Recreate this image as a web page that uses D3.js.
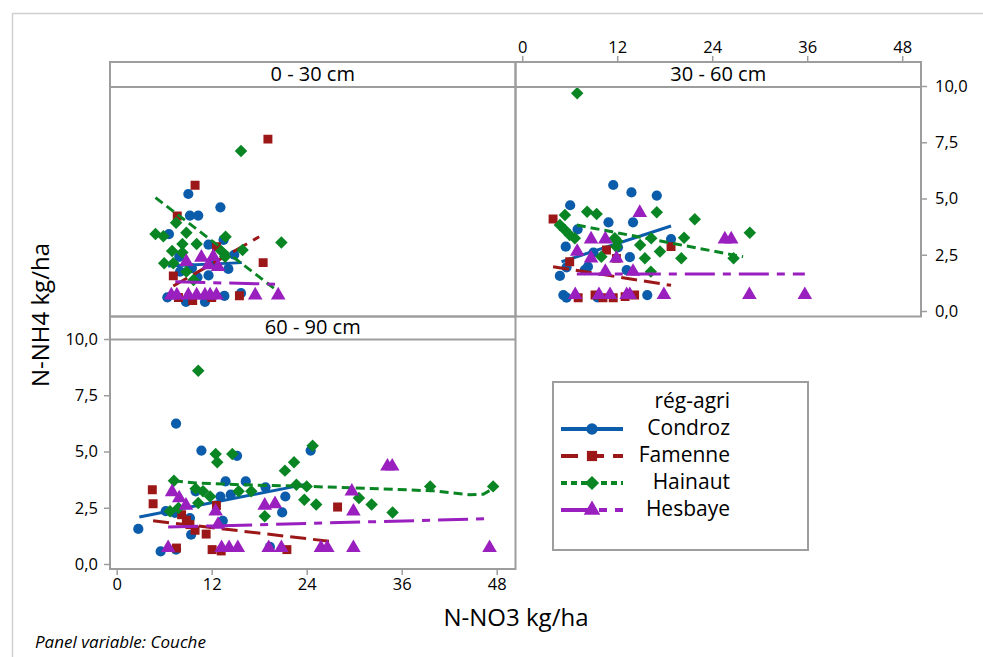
<!DOCTYPE html>
<html><head><meta charset="utf-8">
<script src="https://cdn.jsdelivr.net/npm/d3@7"></script>
<style>body{margin:0;background:#fff} svg text{font-family:"Open Sans",sans-serif;fill:#000}</style>
</head><body><svg id="c" width="983" height="657"></svg>
<script>
// ---------- DATA ----------
const regions = ["Condroz", "Famenne", "Hainaut", "Hesbaye"];
const panels = ["0 - 30 cm", "30 - 60 cm", "60 - 90 cm"];
const xTicks = [0, 12, 24, 36, 48];
const yTicks = [0, 2.5, 5, 7.5, 10];

// 0 - 30 cm : [N-NO3, N-NH4]
const condroz_0_30 = [[9.05,5.2],[13.1,4.61],[9.25,4.24],[10.3,4.24],[6.6,3.42],[13.5,3.16],[11.6,2.95],[14.85,2.5],[7.9,2.41],[14.1,1.87],[11.6,1.58],[8.0,1.75],[10.2,1.5],[6.4,0.61],[8.75,0.41],[11.15,0.41],[13.6,0.67],[15.7,0.79],[9.5,1.9],[12.3,2.2]];
const famenne_0_30 = [[19.1,7.64],[9.9,5.59],[7.65,4.22],[12.6,2.86],[18.5,2.15],[7.15,1.56],[15.5,0.68],[9.6,0.46],[12.0,0.6],[7.8,0.6]];
const hainaut_0_30 = [[15.7,7.11],[7.5,3.92],[4.9,3.42],[5.9,3.32],[8.8,3.48],[13.75,3.3],[20.8,3.04],[10.1,2.98],[8.3,2.98],[7.0,2.67],[15.9,2.71],[13.2,2.67],[13.7,2.41],[6.0,2.12],[7.15,2.12],[8.8,1.75],[9.7,1.38],[8.3,2.6]];
const hesbaye_0_30 = [[8.8,2.19],[10.7,2.38],[12.2,2.41],[12.8,1.97],[11.6,2.04],[6.9,0.7],[7.6,0.7],[9.05,0.7],[10.1,0.7],[11.15,0.7],[11.8,0.7],[12.6,0.7],[17.5,0.7],[20.4,0.7]];

// 30 - 60 cm
const condroz_30_60 = [[11.5,5.6],[13.8,5.27],[17.0,5.13],[6.06,4.7],[10.9,3.94],[14.0,3.94],[7.0,3.63],[18.8,3.2],[5.5,2.86],[13.6,2.39],[5.6,1.94],[4.76,1.56],[8.3,1.97],[7.9,1.82],[13.2,1.82],[5.2,0.71],[5.6,0.59],[15.8,0.71],[9.5,0.61],[12.1,2.83],[9.0,2.6]];
const famenne_30_60 = [[3.9,4.09],[18.8,2.86],[6.0,2.19],[10.65,2.71],[11.9,2.34],[7.07,0.59],[9.2,0.71],[10.2,0.59],[11.5,0.59],[13.0,0.64],[14.2,0.71]];
const hainaut_30_60 = [[6.95,9.68],[5.4,4.27],[8.2,4.41],[9.4,4.31],[17.0,4.39],[21.8,4.08],[4.76,3.82],[5.4,3.6],[6.0,3.38],[6.65,3.23],[11.7,3.23],[11.9,2.86],[14.9,2.93],[16.3,3.23],[17.4,2.64],[20.45,3.26],[20.1,2.34],[15.5,2.34],[16.25,1.75],[10.0,2.41],[28.75,3.48],[26.7,2.34],[12.0,3.1]];
const hesbaye_30_60 = [[14.85,4.37],[25.6,3.19],[26.4,3.19],[8.7,3.19],[10.5,3.19],[6.95,2.64],[8.7,2.34],[11.9,2.34],[10.5,1.75],[14.0,1.75],[6.7,0.72],[9.7,0.72],[11.1,0.72],[13.2,0.72],[13.6,0.72],[17.9,0.72],[28.7,0.72],[35.7,0.72]];

// 60 - 90 cm
const condroz_60_90 = [[7.5,6.24],[10.7,5.04],[15.2,4.81],[24.5,5.04],[13.75,3.67],[16.3,3.67],[18.8,3.41],[13.1,3.0],[14.4,3.08],[21.3,3.0],[9.97,3.23],[2.73,1.56],[5.55,0.56],[7.5,0.64],[9.4,1.3],[9.25,2.04],[13.4,1.92],[20.9,2.29],[19.35,0.76],[7.36,2.27],[6.2,2.35]];
const famenne_60_90 = [[4.5,3.3],[4.6,2.68],[12.6,2.6],[27.9,2.53],[8.2,2.19],[8.8,1.95],[9.25,1.75],[9.9,1.5],[11.3,1.33],[7.55,0.71],[12.05,0.64],[13.2,0.58],[21.5,0.64]];
const hainaut_60_90 = [[10.3,8.59],[24.75,5.26],[12.5,4.89],[14.6,4.89],[12.7,4.52],[22.4,4.52],[21.25,4.15],[7.23,3.7],[22.7,3.52],[24.0,3.45],[9.97,3.35],[10.9,3.23],[11.8,3.0],[15.4,3.23],[17.0,3.23],[39.6,3.45],[47.55,3.45],[30.6,2.93],[23.7,2.86],[32.2,2.64],[25.2,2.64],[34.85,2.29],[18.7,2.12],[10.3,2.71],[6.73,2.34],[7.8,2.49]];
const hesbaye_60_90 = [[34.2,4.34],[34.8,4.34],[7.0,3.2],[7.9,2.93],[8.75,2.6],[12.5,2.34],[18.7,2.6],[20.0,2.67],[29.7,3.23],[29.9,2.34],[12.8,1.75],[6.5,0.72],[13.25,0.72],[14.2,0.72],[15.3,0.72],[19.2,0.72],[20.8,0.72],[25.8,0.72],[26.6,0.72],[29.9,0.72],[47.1,0.72]];

// fitted lines
const fitCondroz_0_30 = [[6.5,2.0],[15.8,2.15]];
const fitFamenne_0_30 = [[7.15,1.11],[18.0,3.3]];
const fitHainaut_0_30 = [[4.9,5.04],[20.2,0.92]];
const fitHesbaye_0_30 = [[7.4,1.3],[20.0,1.19]];
const fitCondroz_30_60 = [[4.97,2.19],[18.8,3.78]];
const fitFamenne_30_60 = [[3.9,1.97],[18.8,1.14]];
const fitHainaut_30_60 = [[6.9,3.82],[27.9,2.41]];
const fitHesbaye_30_60 = [[6.9,1.64],[35.7,1.64]];
const fitCondroz_60_90 = [[2.86,2.09],[24.0,3.55]];
const fitFamenne_60_90 = [[4.6,1.92],[27.1,1.0]];
const fitHainaut_60_90 = [[7.23,3.7],[10,3.6],[16,3.52],[24,3.45],[32,3.36],[40,3.25],[44.5,3.08],[46.3,3.1],[47.55,3.35]];
const fitHesbaye_60_90 = [[6.5,1.64],[46.5,2.01]];

// ---------- STYLE ----------
const colors = {Condroz:"#0b5cab", Famenne:"#9c1717", Hainaut:"#0a8524", Hesbaye:"#9a1fbf"};
const dashes = {Condroz:null, Famenne:"16,7", Hainaut:"9,5", Hesbaye:"30,8,8,8"};
const legendDashes = {Condroz:null, Famenne:"17,9", Hainaut:"6,4", Hesbaye:"30,8,8,8"};
const symbols = {Condroz:d3.symbolCircle, Famenne:d3.symbolSquare, Hainaut:d3.symbolSquare, Hesbaye:d3.symbolTriangle};
const symSize = {Condroz:82, Famenne:80, Hainaut:78, Hesbaye:92};
const symRot = {Condroz:0, Famenne:0, Hainaut:45, Hesbaye:0};
const frameCol = "#9d9d9d";

const panelData = [
  {name:panels[0], L:110, T:86, stripTop:62, plotTop:87, plotBot:316.5,
   pts:{Condroz:condroz_0_30,Famenne:famenne_0_30,Hainaut:hainaut_0_30,Hesbaye:hesbaye_0_30},
   fit:{Condroz:fitCondroz_0_30,Famenne:fitFamenne_0_30,Hainaut:fitHainaut_0_30,Hesbaye:fitHesbaye_0_30}},
  {name:panels[1], L:515.5, T:86, stripTop:62, plotTop:87, plotBot:316.5,
   pts:{Condroz:condroz_30_60,Famenne:famenne_30_60,Hainaut:hainaut_30_60,Hesbaye:hesbaye_30_60},
   fit:{Condroz:fitCondroz_30_60,Famenne:fitFamenne_30_60,Hainaut:fitHainaut_30_60,Hesbaye:fitHesbaye_30_60}},
  {name:panels[2], L:110, T:339, stripTop:316.5, plotTop:339.5, plotBot:569,
   pts:{Condroz:condroz_60_90,Famenne:famenne_60_90,Hainaut:hainaut_60_90,Hesbaye:hesbaye_60_90},
   fit:{Condroz:fitCondroz_60_90,Famenne:fitFamenne_60_90,Hainaut:fitHainaut_60_90,Hesbaye:fitHesbaye_60_90}}
];
const PW = 405.5;

const svg = d3.select("#c");
// outer frame
svg.append("path").attr("d","M12.5,657V13.5H983").attr("fill","none").attr("stroke","#d0d0d0").attr("stroke-width",1.5);

const fmt = d => d3.format(".1f")(d).replace(".", ",");

panelData.forEach((p, i) => {
  const x = d3.scaleLinear().domain([0,48]).range([p.L+6.7, p.L+386.7]);
  const y = d3.scaleLinear().domain([0,10]).range([p.T+225, p.T]);
  p.x = x; p.y = y;
  const g = svg.append("g");
  const clipId = "clip"+i;
  svg.append("clipPath").attr("id",clipId).append("rect")
    .attr("x",p.L+1).attr("y",p.plotTop+1).attr("width",PW-2).attr("height",p.plotBot-p.plotTop-2);
  const inner = g.append("g").attr("clip-path",`url(#${clipId})`);
  const line = d3.line().x(d=>x(d[0])).y(d=>y(d[1]));
  regions.forEach(r => {
    inner.selectAll(null).data(p.pts[r]).enter().append("path")
      .attr("d", d3.symbol().type(symbols[r]).size(symSize[r]))
      .attr("transform", d=>`translate(${x(d[0])},${y(d[1])}) rotate(${symRot[r]})`)
      .attr("fill", colors[r]);
    inner.append("path").attr("d", line(p.fit[r])).attr("fill","none")
      .attr("stroke", colors[r]).attr("stroke-width",3)
      .attr("stroke-dasharray", dashes[r]);
  });
  // frame + strip
  g.append("rect").attr("x",p.L).attr("y",p.stripTop).attr("width",PW).attr("height",p.plotBot-p.stripTop)
    .attr("fill","none").attr("stroke",frameCol).attr("stroke-width",2);
  g.append("line").attr("x1",p.L).attr("x2",p.L+PW).attr("y1",p.plotTop).attr("y2",p.plotTop)
    .attr("stroke",frameCol).attr("stroke-width",2);
  g.append("text").attr("x",p.L+PW/2).attr("y",(p.stripTop+p.plotTop)/2+1).attr("text-anchor","middle")
    .attr("dominant-baseline","middle").style("font-size","20px").text(p.name);
});

function styleAxis(sel){
  sel.select(".domain").remove();
  sel.selectAll(".tick line").attr("stroke",frameCol).attr("stroke-width",1.5);
  sel.selectAll(".tick text").style("font-size","16.5px").style("font-family",'"Open Sans",sans-serif').attr("fill","#000");
}
// panel 3: left + bottom
const p3 = panelData[2], p2 = panelData[1];
svg.append("g").attr("transform",`translate(${p3.L},0)`)
  .call(d3.axisLeft(p3.y).tickValues(yTicks).tickFormat(fmt).tickSize(6).tickPadding(6)).call(styleAxis);
svg.append("g").attr("transform",`translate(0,${p3.plotBot})`)
  .call(d3.axisBottom(p3.x).tickValues(xTicks).tickSize(6).tickPadding(3)).call(styleAxis);
// panel 2: top + right
svg.append("g").attr("transform",`translate(0,${p2.stripTop})`)
  .call(d3.axisTop(p2.x).tickValues(xTicks).tickSize(6).tickPadding(3)).call(styleAxis);
svg.append("g").attr("transform",`translate(${p2.L+PW},0)`)
  .call(d3.axisRight(p2.y).tickValues(yTicks).tickFormat(fmt).tickSize(6).tickPadding(8)).call(styleAxis);

// axis titles
svg.append("text").attr("x",516).attr("y",626).attr("text-anchor","middle").style("font-size","24px").text("N-NO3 kg/ha");
svg.append("text").attr("transform","translate(49,315) rotate(-90)").attr("text-anchor","middle").style("font-size","24px").text("N-NH4 kg/ha");
svg.append("text").attr("x",35).attr("y",648).style("font-size","17px").style("font-style","italic").text("Panel variable: Couche");

// legend
const lg = svg.append("g");
lg.append("rect").attr("x",553).attr("y",382).attr("width",255).attr("height",168)
  .attr("fill","#fff").attr("stroke",frameCol).attr("stroke-width",2);
lg.append("text").attr("x",730).attr("y",402).attr("text-anchor","end").attr("dominant-baseline","middle")
  .style("font-size","21px").text("rég-agri");
const legendY = d3.scalePoint().domain(regions).range([429, 510]);
regions.forEach(r => {
  const yy = legendY(r);
  lg.append("line").attr("x1",561).attr("x2",623).attr("y1",yy).attr("y2",yy)
    .attr("stroke",colors[r]).attr("stroke-width",4).attr("stroke-dasharray",legendDashes[r]);
  lg.append("path").attr("d",d3.symbol().type(symbols[r]).size(symSize[r]*1.3))
    .attr("transform",`translate(592,${yy}) rotate(${symRot[r]})`).attr("fill",colors[r]);
  lg.append("text").attr("x",730).attr("y",yy).attr("text-anchor","end").attr("dominant-baseline","middle")
    .style("font-size","21px").text(r);
});
</script></body></html>
